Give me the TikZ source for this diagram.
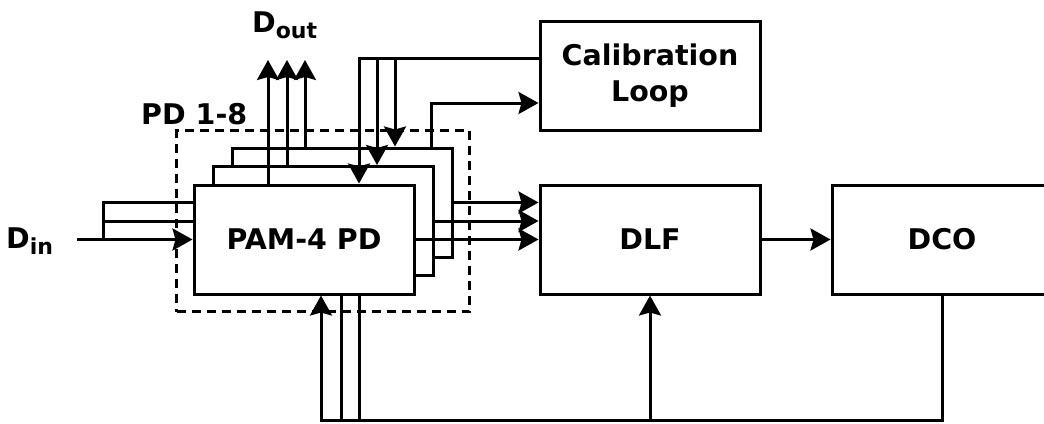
\documentclass[tikz,border=0pt]{standalone}
\usepackage{fontspec}
\setmainfont{DejaVu Sans}
\usetikzlibrary{arrows.meta,fit,backgrounds}

\tikzset{
  blk/.style={draw,line width=3pt,fill=white,minimum width=220pt,minimum height=109pt,
    inner sep=0pt,align=center,font=\fontsize{28.5}{36}\selectfont\bfseries},
  wire/.style={line width=3pt},
  sig/.style={wire,-{Stealth[length=20pt,width=22pt,inset=3pt]}},
  lbl/.style={font=\fontsize{28.5}{30}\selectfont\bfseries,inner sep=0pt},
}

\begin{document}
\begin{tikzpicture}[x=1pt,y=-1pt]
\useasboundingbox (0,0) rectangle (1044,423);
% blocks (PD stack back to front)
\node[blk] (pd3) at (342,202.5) {};
\node[blk] (pd2) at (323,221) {};
\node[blk] (pd1) at (304,239.5) {PAM-4 PD};
\node[blk] (cal) at (650,75.5) {Calibration\\Loop};
\node[blk] (dlf) at (650,239.5) {DLF};
\node[blk] (dco) at (942,239.5) {DCO};
\node[draw,wire,dashed,dash pattern=on 9pt off 6pt,inner sep=16pt,fit=(pd1)(pd3)] (grp) {};

% labels
\node[lbl,anchor=base west] (grplbl) at (141,124) {PD 1-8};
\node[lbl,anchor=base west] (dout) at (252,32) {D{\fontsize{22}{22}\selectfont\raisebox{-6pt}{out}}};
\node[lbl,anchor=base west] (din) at (6,248) {D{\fontsize{22}{22}\selectfont\raisebox{-6pt}{in}}};
\coordinate (src) at (77,239.5);
\coordinate (outtop) at (0,60);
\coordinate (fb) at (0,420);

% inputs
\draw[sig] (src) -- (pd1.west);
\begin{scope}[on background layer]
\draw[wire] ([xshift=26pt]src) |- (pd2.west);
\draw[wire] ([xshift=26pt]src) |- (pd3.west);
\draw[wire] ([xshift=18pt]pd2.south |- fb) -- ([xshift=18pt]pd2.south);
\draw[wire] ([xshift=17pt]pd3.south |- fb) -- ([xshift=17pt]pd3.south);
\end{scope}

% outputs
\draw[sig] ([xshift=-36pt]pd1.north) -- ([xshift=-36pt]pd1.north |- outtop);
\draw[sig] ([xshift=-36pt]pd2.north) -- ([xshift=-36pt]pd2.north |- outtop);
\draw[sig] ([xshift=-37pt]pd3.north) -- ([xshift=-37pt]pd3.north |- outtop);
\draw[sig] (pd1.east) -- (pd1.east -| dlf.west);
\draw[sig] (pd2.east) -- (pd2.east -| dlf.west);
\draw[sig] (pd3.east) -- (pd3.east -| dlf.west);
\draw[sig] (dlf) -- (dco);

% calibration
\draw[sig] ([yshift=17.5pt]cal.west) -| ([xshift=55pt]pd1.north);
\draw[sig] ([yshift=17.5pt]cal.west) -| ([xshift=54pt]pd2.north);
\draw[sig] ([yshift=17.5pt]cal.west) -| ([xshift=53pt]pd3.north);
\draw[sig] ([xshift=89pt]pd3.north) |- ([yshift=-27.5pt]cal.west);

% feedback
\draw[sig] (dco.south) |- ([xshift=17pt]pd1.south |- fb) -- ([xshift=17pt]pd1.south);
\draw[sig] (dlf.south |- fb) -- (dlf.south);
\end{tikzpicture}
\end{document}
